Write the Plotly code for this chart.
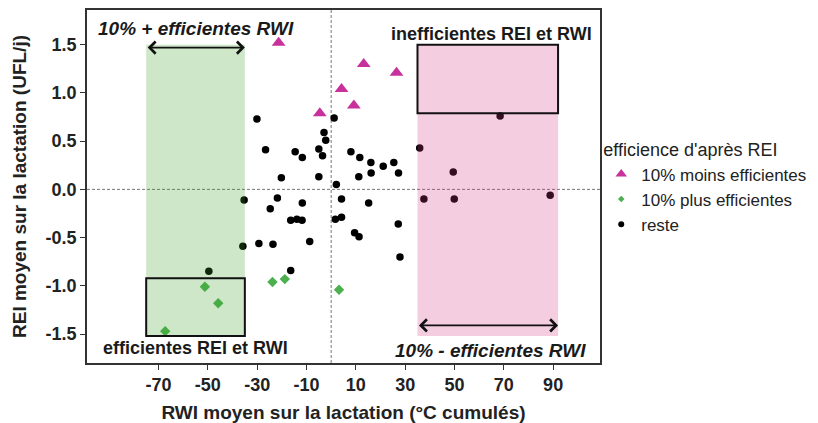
import plotly.graph_objects as go

# --- data -------------------------------------------------------------------
moins_x = [-21.3, -4.6, 4.2, 9.2, 13.2, 26.5]
moins_y = [1.52, 0.79, 1.04, 0.87, 1.30, 1.21]

plus_x = [-67.3, -51.2, -45.8, -23.8, -18.8, 3.2]
plus_y = [-1.47, -1.01, -1.18, -0.96, -0.93, -1.04]

reste_x = [-35.3, -30.1, -26.6, -20.2, -21.8, -24.7, -14.6, -11.7, -11.7, -5.0,
           -3.5, -2.9, -2.2, -5.0, 1.2, 2.1, 4.2, 8.0, 11.6, 11.2,
           16.1, 16.2, 15.2, 21.1, 25.4, 27.3, -16.4, -13.9, -11.8, 1.7,
           4.2, -35.8, -29.3, -23.6, -8.7, -49.6, -16.4, 9.5, 11.3, 27.2,
           27.9, 35.9, 68.5, 49.5, 37.6, 49.9, 88.8]
reste_y = [-0.11, 0.73, 0.41, 0.12, -0.09, -0.20, 0.39, 0.33, -0.14, 0.42,
           0.35, 0.59, 0.51, 0.13, 0.74, 0.05, -0.10, 0.39, 0.33, 0.13,
           0.28, 0.17, -0.14, 0.24, 0.28, 0.17, -0.32, -0.31, -0.32, -0.31,
           -0.29, -0.59, -0.56, -0.57, -0.54, -0.85, -0.84, -0.45, -0.49, -0.36,
           -0.70, 0.43, 0.76, 0.18, -0.10, -0.10, -0.06]

x_tickvals = [-70, -50, -30, -10, 10, 30, 50, 70, 90]
x_ticktext = ["-70", "-50", "-30", "-10", "10", "30", "50", "70", "90"]
y_tickvals = [-1.5, -1.0, -0.5, 0.0, 0.5, 1.0, 1.5]
y_ticktext = ["-1.5", "-1.0", "-0.5", "0.0", "0.5", "1.0", "1.5"]

# zones
green_zone_x = [-75, -35]
pink_zone_x = [35, 92]
zone_y = [-1.52, 1.5]
eff_box_y = [-1.52, -0.92]
ineff_box_y = [0.79, 1.5]
top_arrow_y = 1.47
bottom_arrow_y = -1.41

MAGENTA = "#C8309B"
GREEN = "#4DB04F"
FONT = "Liberation Sans"

fig = go.Figure()

# data traces (no legend)
fig.add_trace(go.Scatter(x=reste_x, y=reste_y, mode="markers", showlegend=False,
                         marker=dict(symbol="circle", size=7.5, color="black")))
fig.add_trace(go.Scatter(x=plus_x, y=plus_y, mode="markers", showlegend=False,
                         marker=dict(symbol="diamond", size=8, color=GREEN)))
fig.add_trace(go.Scatter(x=moins_x, y=moins_y, mode="markers", showlegend=False,
                         marker=dict(symbol="triangle-up", size=12, color=MAGENTA)))

# legend entries
fig.add_trace(go.Scatter(x=[None], y=[None], mode="markers", name="10% moins efficientes",
                         marker=dict(symbol="triangle-up", size=10, color=MAGENTA)))
fig.add_trace(go.Scatter(x=[None], y=[None], mode="markers", name="10% plus efficientes",
                         marker=dict(symbol="diamond", size=5, color=GREEN)))
fig.add_trace(go.Scatter(x=[None], y=[None], mode="markers", name="reste",
                         marker=dict(symbol="circle", size=6, color="black")))

shapes = []
# translucent zones drawn above points
shapes.append(dict(type="rect", xref="x", yref="y", x0=green_zone_x[0], x1=green_zone_x[1],
                   y0=zone_y[0], y1=zone_y[1], fillcolor="rgb(55,160,35)", opacity=0.25,
                   line=dict(width=0), layer="above"))
shapes.append(dict(type="rect", xref="x", yref="y", x0=pink_zone_x[0], x1=pink_zone_x[1],
                   y0=zone_y[0], y1=zone_y[1], fillcolor="rgb(210,55,135)", opacity=0.25,
                   line=dict(width=0), layer="above"))
# black boxes
shapes.append(dict(type="rect", xref="x", yref="y", x0=green_zone_x[0], x1=green_zone_x[1],
                   y0=eff_box_y[0], y1=eff_box_y[1], line=dict(color="#111", width=2),
                   fillcolor="rgba(0,0,0,0)", layer="above"))
shapes.append(dict(type="rect", xref="x", yref="y", x0=pink_zone_x[0], x1=pink_zone_x[1],
                   y0=ineff_box_y[0], y1=ineff_box_y[1], line=dict(color="#111", width=2),
                   fillcolor="rgba(0,0,0,0)", layer="above"))
# dashed reference lines
shapes.append(dict(type="line", xref="paper", yref="y", x0=0, x1=1, y0=0, y1=0,
                   line=dict(color="#777", width=1, dash="3px,2px"), layer="below"))
shapes.append(dict(type="line", xref="x", yref="paper", x0=0, x1=0, y0=0, y1=1,
                   line=dict(color="#777", width=1, dash="3px,2px"), layer="below"))

annotations = []
for (xa, xb, ya) in [(green_zone_x[0], green_zone_x[1], top_arrow_y),
                     (pink_zone_x[0], pink_zone_x[1], bottom_arrow_y)]:
    annotations.append(dict(x=xb, y=ya, ax=xa, ay=ya, xref="x", yref="y", axref="x", ayref="y",
                            text="", showarrow=True, arrowhead=4, arrowside="end+start",
                            arrowsize=1.3, arrowwidth=1.8, arrowcolor="#111",
                            standoff=0, startstandoff=0))

label_font = dict(family=FONT, size=18, color="#1a1a1a", weight="bold")
italic_font = dict(family=FONT, size=19, color="#1a1a1a", weight="bold", style="italic")
annotations.append(dict(x=-55, y=1.67, xref="x", yref="y", text="10% + efficientes RWI",
                        showarrow=False, font=italic_font))
annotations.append(dict(x=65, y=1.61, xref="x", yref="y", text="inefficientes REI et RWI",
                        showarrow=False, font=label_font))
annotations.append(dict(x=-55, y=-1.645, xref="x", yref="y", text="efficientes REI et RWI",
                        showarrow=False, font=label_font))
annotations.append(dict(x=64.5, y=-1.67, xref="x", yref="y", text="10% - efficientes RWI",
                        showarrow=False, font=italic_font))

fig.update_layout(
    width=818, height=423,
    margin=dict(l=87, r=218, t=10, b=60, autoexpand=False),
    plot_bgcolor="white", paper_bgcolor="white",
    font=dict(family=FONT, color="#222"),
    shapes=shapes, annotations=annotations,
    legend=dict(
        xref="container", yref="container", x=0.735, y=1 - 133 / 423,
        xanchor="left", yanchor="top",
        title=dict(text="efficience d'après REI", font=dict(family=FONT, size=18, color="#222")),
        font=dict(family=FONT, size=17, color="#222"),
        bgcolor="rgba(0,0,0,0)", itemwidth=30, tracegroupgap=0,
    ),
)

fig.update_xaxes(
    range=[-99, 109], tickvals=x_tickvals, ticktext=x_ticktext,
    showgrid=False, zeroline=False, showline=True, mirror=True,
    linecolor="#333", linewidth=1.5, ticks="outside", ticklen=5, tickcolor="#333",
    tickfont=dict(family=FONT, size=18, color="#222", weight="bold"),
    title=dict(text="RWI moyen sur la lactation (°C cumulés)", standoff=14,
               font=dict(family=FONT, size=19, color="#222", weight="bold")),
)
fig.update_yaxes(
    range=[-1.8, 1.86], tickvals=y_tickvals, ticktext=y_ticktext,
    showgrid=False, zeroline=False, showline=True, mirror=True,
    linecolor="#333", linewidth=1.5, ticks="outside", ticklen=5, tickcolor="#333",
    tickfont=dict(family=FONT, size=18, color="#222", weight="bold"),
    title=dict(text="REI moyen sur la lactation (UFL/j)", standoff=14,
               font=dict(family=FONT, size=19, color="#222", weight="bold")),
)

# remove the browser's default page margin so the figure sits at the window's corner
fig.write_html("out.html", config={"displayModeBar": False},
               post_script="document.body.style.margin='0';")
